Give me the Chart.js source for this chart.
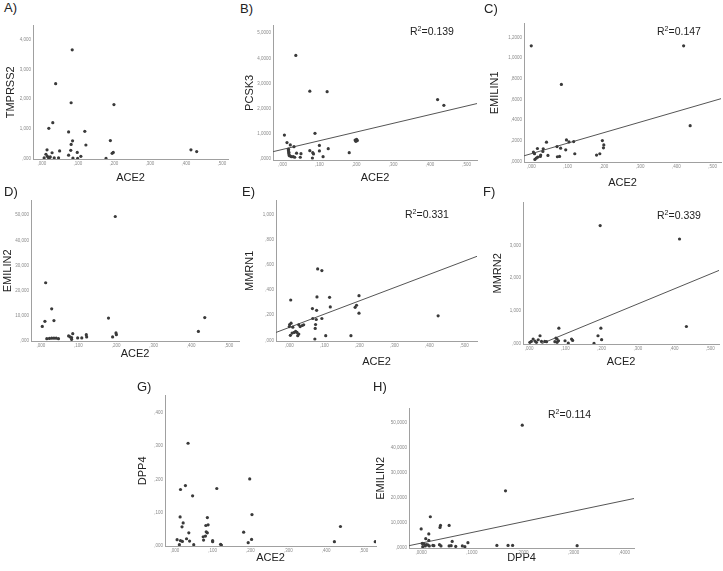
<!DOCTYPE html>
<html>
<head>
<meta charset="utf-8">
<script src="https://cdn.jsdelivr.net/npm/chart.js@4.4.1/dist/chart.umd.min.js"></script>
<style>
body{margin:0;background:#fff;font-family:"Liberation Sans",Arial,sans-serif;}
#wrap{position:relative;width:723px;height:571px;overflow:hidden;}
canvas{position:absolute;}
.lbl{position:absolute;font-size:13px;line-height:1;color:#222;}
.r2{position:absolute;font-size:10.5px;line-height:1;color:#222;white-space:nowrap;}
.r2 sup{font-size:7px;line-height:0;vertical-align:4px;}
</style>
</head>
<body>
<div id="wrap"></div>
<script>
// A) ACE2 - TMPRSS2
const ace2A = [0.084,0.038,0.081,0.200,0.030,0.019,0.074,0.119,0.085,0.190,0.081,0.122,0.014,0.049,0.028,0.080,0.098,0.198,0.195,0.414,0.430,0.074,0.108,0.006,0.011,0.018,0.023,0.034,0.046,0.086,0.099,0.178,0.015,0.020];
const tmprss2 = [3.66,2.52,1.88,1.82,1.21,1.02,0.90,0.92,0.60,0.61,0.48,0.46,0.30,0.26,0.20,0.28,0.21,0.21,0.18,0.30,0.24,0.12,0.08,0.03,0.15,0.04,0.06,0.03,0.03,0.02,0.01,0.01,0.08,0.02];

// B) ACE2 - PCSK3
const ace2B = [0.036,0.074,0.121,0.421,0.438,0.088,0.005,0.197,0.201,0.203,0.199,0.012,0.021,0.031,0.100,0.124,0.016,0.016,0.017,0.017,0.074,0.100,0.038,0.050,0.082,0.084,0.181,0.020,0.024,0.029,0.033,0.048,0.081,0.110,0.018];
const pcsk3 = [4.12,2.70,2.68,2.37,2.14,1.03,0.96,0.76,0.79,0.74,0.71,0.66,0.57,0.50,0.55,0.42,0.40,0.34,0.28,0.22,0.34,0.33,0.24,0.22,0.26,0.21,0.26,0.13,0.10,0.10,0.08,0.08,0.05,0.10,0.15];
const pcsk3FitX = [-0.026, 0.528];
const pcsk3FitY = [0.30, 2.21];

// C) ACE2 - EMILIN1
const ace2C = [0.000,0.420,0.083,0.438,0.097,0.042,0.117,0.104,0.196,0.200,0.199,0.071,0.081,0.095,0.017,0.033,0.032,0.006,0.009,0.026,0.025,0.046,0.120,0.078,0.072,0.180,0.189,0.014,0.010,0.018];
const emilin1 = [1.12,1.12,0.746,0.346,0.208,0.186,0.192,0.189,0.202,0.160,0.131,0.144,0.128,0.112,0.125,0.122,0.096,0.090,0.074,0.061,0.048,0.058,0.074,0.048,0.045,0.061,0.074,0.032,0.019,0.042];
const emilin1FitX = [-0.02, 0.523];
const emilin1FitY = [0.054, 0.608];

// D) ACE2 - EMILIN2
const ace2D = [0.198,0.013,0.029,0.011,0.035,0.004,0.180,0.436,0.419,0.200,0.201,0.191,0.085,0.121,0.122,0.074,0.078,0.082,0.098,0.109,0.016,0.023,0.029,0.035,0.041,0.047,0.082];
const emilin2D = [49.5,23.1,12.7,7.7,8.0,5.7,9.0,9.2,3.7,3.1,2.4,1.5,2.8,2.4,1.5,1.9,1.5,1.2,1.1,1.1,0.8,0.9,1.0,1.0,1.0,0.8,0.5];

// E) ACE2 - MMRN1
const ace2E = [0.081,0.093,0.004,0.079,0.115,0.199,0.117,0.188,0.192,0.066,0.199,0.425,0.078,0.067,0.093,0.077,0.075,0.074,0.000,0.001,0.005,0.010,0.027,0.031,0.037,0.041,0.018,0.022,0.014,0.027,0.024,0.008,0.003,0.073,0.104,0.176];
const mmrn1 = [0.568,0.555,0.321,0.345,0.342,0.355,0.266,0.263,0.279,0.253,0.216,0.195,0.239,0.174,0.174,0.166,0.126,0.095,0.110,0.126,0.137,0.105,0.124,0.110,0.118,0.124,0.071,0.063,0.063,0.050,0.037,0.058,0.040,0.011,0.037,0.037];
const mmrn1FitX = [-0.038, 0.536];
const mmrn1FitY = [0.063, 0.668];

// F) ACE2 - MMRN2
const ace2F = [0.196,0.415,0.434,0.082,0.198,0.190,0.200,0.179,0.030,0.011,0.016,0.006,0.002,0.025,0.034,0.043,0.048,0.020,0.074,0.077,0.081,0.077,0.071,0.099,0.108,0.117,0.120];
const mmrn2 = [3.61,3.20,0.525,0.475,0.475,0.242,0.121,0.010,0.242,0.14,0.08,0.07,0.04,0.12,0.07,0.07,0.06,0.04,0.17,0.14,0.09,0.04,0.06,0.09,0.02,0.14,0.10];
const mmrn2FitX = [0.034, 0.524];
const mmrn2FitY = [0, 2.24];

// G) ACE2 - DPP4
const ace2G = [0.035,0.028,0.015,0.111,0.047,0.198,0.204,0.014,0.022,0.019,0.086,0.082,0.088,0.083,0.086,0.037,0.075,0.076,0.081,0.182,0.438,0.006,0.015,0.020,0.031,0.039,0.012,0.050,0.100,0.100,0.121,0.123,0.194,0.203,0.422,0.530];
const dpp4 = [0.309,0.181,0.169,0.172,0.150,0.201,0.093,0.086,0.068,0.056,0.084,0.060,0.062,0.041,0.038,0.038,0.026,0.016,0.028,0.040,0.057,0.017,0.014,0.012,0.020,0.013,0.002,0.002,0.014,0.011,0.003,0.001,0.008,0.018,0.011,0.011];

// H) DPP4 - EMILIN2
const dpp4H = [0.199,0.166,0.018,0.055,0.038,0.037,0.000,0.015,0.009,0.015,0.061,0.092,0.002,0.005,0.010,0.013,0.008,0.003,0.016,0.023,0.025,0.036,0.039,0.055,0.059,0.068,0.081,0.086,0.149,0.171,0.180,0.307];
const emilin2H = [49.1,22.8,12.4,8.9,8.9,8.1,7.5,5.5,3.6,2.9,2.5,2.0,1.7,1.5,1.2,1.1,0.7,0.4,0.7,0.9,0.8,1.2,0.7,0.7,0.8,0.5,0.7,0.4,0.9,0.9,0.9,0.8];
const emilin2FitX = [-0.024, 0.419];
const emilin2FitY = [0.8, 19.7];

// tick values + SPSS style labels
const ace2Ticks = [0, 0.1, 0.2, 0.3, 0.4, 0.5];
const ace2Labels = [',000', ',100', ',200', ',300', ',400', ',500'];
const dpp4XTicks = [0, 0.1, 0.2, 0.3, 0.4];
const dpp4XLabels = [',0000', ',1000', ',2000', ',3000', ',4000'];
const ticksA = [0, 1, 2, 3, 4];
const labelsA = [',000', '1,000', '2,000', '3,000', '4,000'];
const ticksB = [0, 1, 2, 3, 4, 5];
const labelsB = [',0000', '1,0000', '2,0000', '3,0000', '4,0000', '5,0000'];
const ticksC = [0, 0.2, 0.4, 0.6, 0.8, 1.0, 1.2];
const labelsC = [',0000', ',2000', ',4000', ',6000', ',8000', '1,0000', '1,2000'];
const ticksD = [0, 10, 20, 30, 40, 50];
const labelsD = [',000', '10,000', '20,000', '30,000', '40,000', '50,000'];
const ticksE = [0, 0.2, 0.4, 0.6, 0.8, 1.0];
const labelsE = [',000', ',200', ',400', ',600', ',800', '1,000'];
const ticksF = [0, 1, 2, 3];
const labelsF = [',000', '1,000', '2,000', '3,000'];
const ticksG = [0, 0.1, 0.2, 0.3, 0.4];
const labelsG = [',000', ',100', ',200', ',300', ',400'];
const ticksH = [0, 10, 20, 30, 40, 50];
const labelsH = [',0000', '10,0000', '20,0000', '30,0000', '40,0000', '50,0000'];

Chart.defaults.font.family = '"Liberation Sans", Arial, sans-serif';

const YW = 36, XH = 30, PT = 4;
const wrap = document.getElementById('wrap');

const panels = [
  {letter:'A)', lpos:[4,1], area:[33,25,228,159], xr:[-0.025,0.517], yr:[-0.01,4.47],
   x:ace2A, y:tmprss2, xt:'ACE2', yt:'TMPRSS2', xTicks:ace2Ticks, xLab:ace2Labels, yTicks:ticksA, yLab:labelsA, ytx:10.5, xty:178},
  {letter:'B)', lpos:[240,2], area:[273,25,477,160], xr:[-0.026,0.528], yr:[-0.03,5.3],
   x:ace2B, y:pcsk3, fx:pcsk3FitX, fy:pcsk3FitY, xt:'ACE2', yt:'PCSK3', xTicks:ace2Ticks, xLab:ace2Labels, yTicks:ticksB, yLab:labelsB, ytx:250, xty:178,
   r2:'0.139', r2pos:[410,26]},
  {letter:'C)', lpos:[484,2], area:[524,23,721,162], xr:[-0.02,0.523], yr:[-0.006,1.335],
   x:ace2C, y:emilin1, fx:emilin1FitX, fy:emilin1FitY, xt:'ACE2', yt:'EMILIN1', xTicks:ace2Ticks, xLab:ace2Labels, yTicks:ticksC, yLab:labelsC, ytx:495, xty:183,
   r2:'0.147', r2pos:[657,26]},
  {letter:'D)', lpos:[4,185], area:[31,200,239,341], xr:[-0.026,0.527], yr:[-0.13,55.8],
   x:ace2D, y:emilin2D, xt:'ACE2', yt:'EMILIN2', xTicks:ace2Ticks, xLab:ace2Labels, yTicks:ticksD, yLab:labelsD, ytx:7.5, xty:354},
  {letter:'E)', lpos:[242,185], area:[276,200,477,341], xr:[-0.038,0.536], yr:[-0.005,1.11],
   x:ace2E, y:mmrn1, fx:mmrn1FitX, fy:mmrn1FitY, xt:'ACE2', yt:'MMRN1', xTicks:ace2Ticks, xLab:ace2Labels, yTicks:ticksE, yLab:labelsE, ytx:250, xty:362,
   r2:'0.331', r2pos:[405,209]},
  {letter:'F)', lpos:[483,185], area:[523,202,719,344], xr:[-0.017,0.524], yr:[-0.01,4.31],
   x:ace2F, y:mmrn2, fx:mmrn2FitX, fy:mmrn2FitY, xt:'ACE2', yt:'MMRN2', xTicks:ace2Ticks, xLab:ace2Labels, yTicks:ticksF, yLab:labelsF, ytx:498, xty:362,
   r2:'0.339', r2pos:[657,210]},
  {letter:'G)', lpos:[137,380], area:[165,395,376,546], xr:[-0.026,0.532], yr:[-0.002,0.453],
   x:ace2G, y:dpp4, xt:'ACE2', yt:'DPP4', xTicks:ace2Ticks, xLab:ace2Labels, yTicks:ticksG, yLab:labelsG, ytx:143, xty:558},
  {letter:'H)', lpos:[373,380], area:[409,408,634,548], xr:[-0.024,0.419], yr:[-0.13,55.7],
   x:dpp4H, y:emilin2H, fx:emilin2FitX, fy:emilin2FitY, xt:'DPP4', yt:'EMILIN2', xTicks:dpp4XTicks, xLab:dpp4XLabels, yTicks:ticksH, yLab:labelsH, ytx:381, xty:558,
   r2:'0.114', r2pos:[548,409]}
];

function axis(min, max, vals, labs, title, pad, size) {
  return {
    type: 'linear', min: min, max: max,
    afterBuildTicks: s => { s.ticks = vals.map(v => ({value: v})); },
    afterFit: s => { if (s.isHorizontal()) s.height = size; else s.width = size; },
    ticks: {
      autoSkip: false, maxRotation: 0, padding: 2, color: '#8a8a8a',
      font: {size: 4.5},
      callback: (v) => labs[vals.indexOf(v)]
    },
    grid: {display: false, drawTicks: false},
    border: {display: true, color: '#a0a0a0', width: 1},
    title: {display: true, text: title, color: '#222', font: {size: 11}, padding: pad}
  };
}

panels.forEach(p => {
  const [l, t, r, b] = p.area;
  const W = r - l + YW + 4;
  const H = b - t + PT + XH;
  const c = document.createElement('canvas');
  c.width = W; c.height = H;
  c.style.left = (l - YW) + 'px';
  c.style.top = (t - PT) + 'px';
  c.style.width = W + 'px';
  c.style.height = H + 'px';
  wrap.appendChild(c);

  const datasets = [{
    data: p.x.map((v, i) => ({x: v, y: p.y[i]})),
    pointRadius: 1.6, pointBackgroundColor: '#3a3a3a', pointBorderWidth: 0
  }];
  if (p.fx) {
    datasets.push({
      data: p.fx.map((v, i) => ({x: v, y: p.fy[i]})),
      showLine: true, borderColor: '#555', borderWidth: 1, pointRadius: 0
    });
  }

  const ptop = p.ytx - (l - YW) - 6.6;
  const pbot = b + XH - 6.6 - p.xty;

  new Chart(c, {
    type: 'scatter',
    data: {datasets: datasets},
    options: {
      responsive: false, animation: false,
      layout: {padding: {top: PT, right: 4, left: 0, bottom: 0}},
      plugins: {legend: {display: false}, tooltip: {enabled: false}},
      scales: {
        x: axis(p.xr[0], p.xr[1], p.xTicks, p.xLab, p.xt, {top: 0, bottom: pbot}, XH),
        y: axis(p.yr[0], p.yr[1], p.yTicks, p.yLab, p.yt, {top: ptop, bottom: 0}, YW)
      }
    }
  });

  const lb = document.createElement('div');
  lb.className = 'lbl';
  lb.style.left = p.lpos[0] + 'px';
  lb.style.top = p.lpos[1] + 'px';
  lb.textContent = p.letter;
  wrap.appendChild(lb);

  if (p.r2) {
    const rd = document.createElement('div');
    rd.className = 'r2';
    rd.style.left = p.r2pos[0] + 'px';
    rd.style.top = p.r2pos[1] + 'px';
    rd.innerHTML = 'R<sup>2</sup>=' + p.r2;
    wrap.appendChild(rd);
  }
});
</script>
</body>
</html>
